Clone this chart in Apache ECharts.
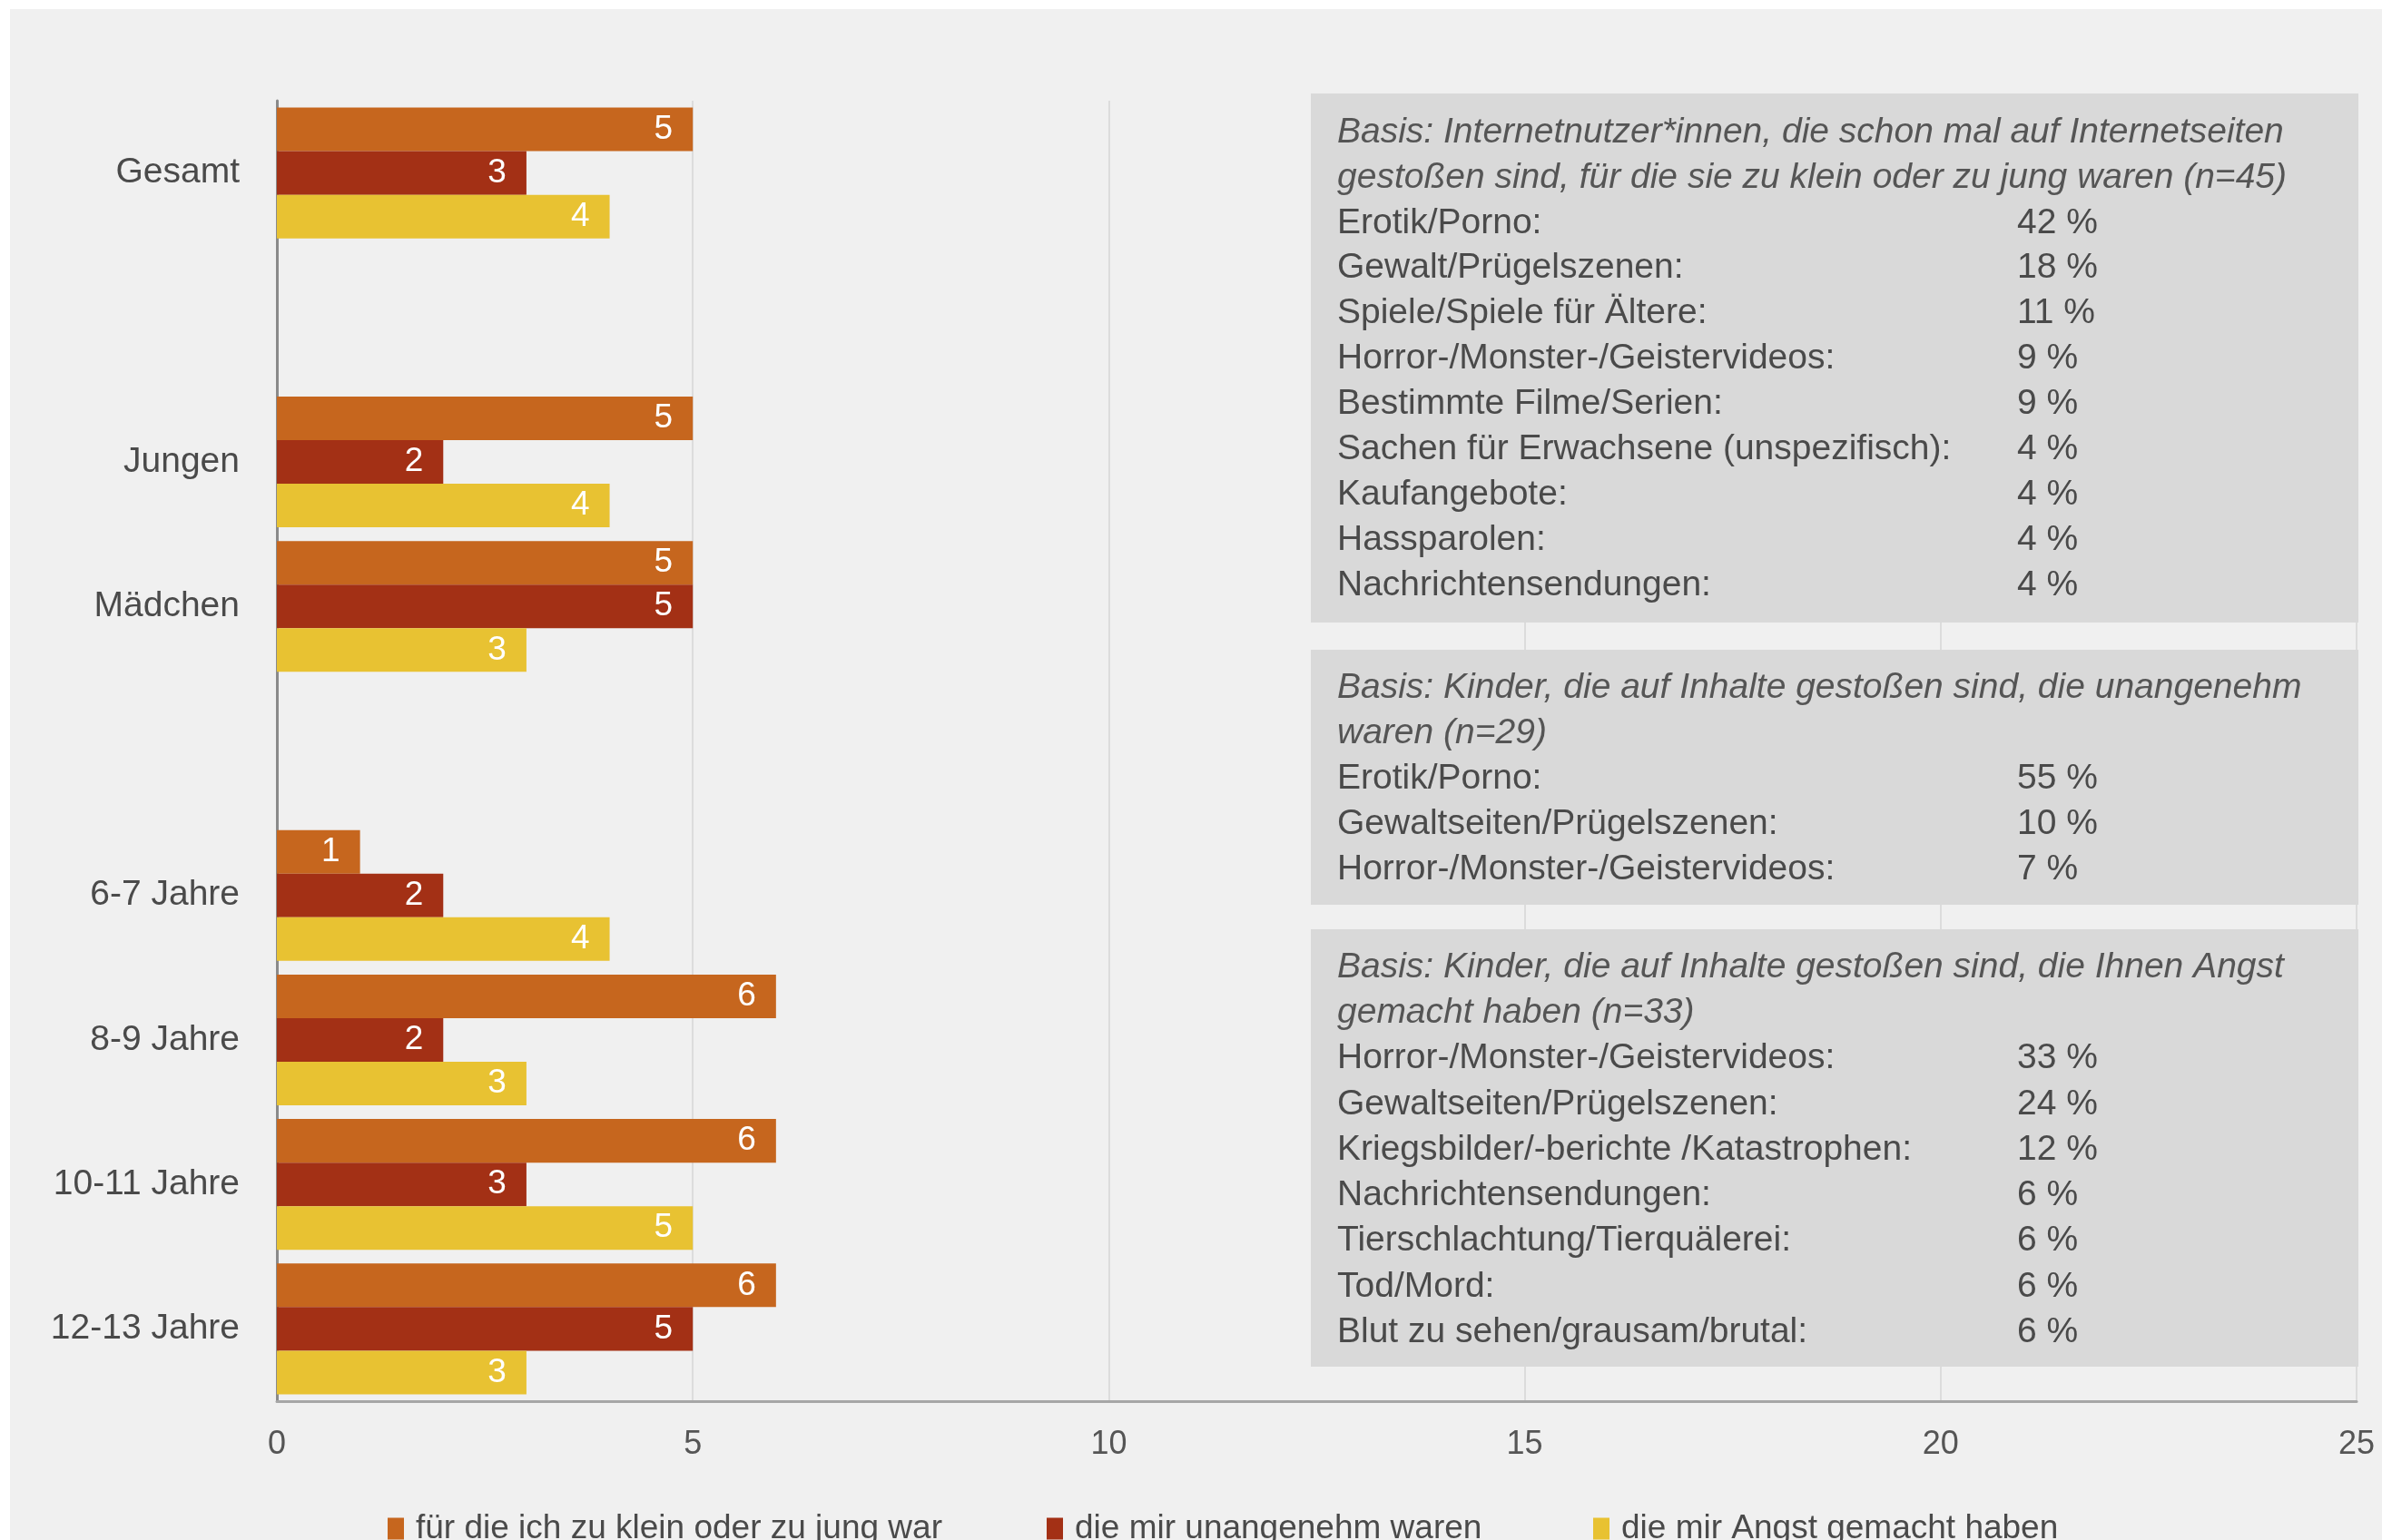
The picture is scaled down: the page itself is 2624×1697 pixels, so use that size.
<!DOCTYPE html>
<html>
<head>
<meta charset="utf-8">
<script src="https://cdn.jsdelivr.net/npm/echarts@6/dist/echarts.min.js"></script>
<style>
html,body{margin:0;padding:0;background:#fff;}
#chart{width:2624px;height:1697px;}
</style>
</head>
<body>
<div id="chart"></div>
<script>
// ---- data ----
const categories = ['Gesamt', ' ', 'Jungen', 'Mädchen', '  ', '6-7 Jahre', '8-9 Jahre', '10-11 Jahre', '12-13 Jahre'];
const seriesNames = ['für die ich zu klein oder zu jung war', 'die mir unangenehm waren', 'die mir Angst gemacht haben'];
const zuKlein = [5, null, 5, 5, null, 1, 6, 6, 6];
const unangenehm = [3, null, 2, 5, null, 2, 2, 3, 5];
const angst = [4, null, 4, 3, null, 4, 3, 5, 3];
const xTicks = [0, 5, 10, 15, 20, 25];

const box1Header = ['Basis: Internetnutzer*innen, die schon mal auf Internetseiten', 'gestoßen sind, für die sie zu klein oder zu jung waren (n=45)'];
const box1Items = ['Erotik/Porno:', 'Gewalt/Prügelszenen:', 'Spiele/Spiele für Ältere:', 'Horror-/Monster-/Geistervideos:', 'Bestimmte Filme/Serien:', 'Sachen für Erwachsene (unspezifisch):', 'Kaufangebote:', 'Hassparolen:', 'Nachrichtensendungen:'];
const box1Values = ['42 %', '18 %', '11 %', '9 %', '9 %', '4 %', '4 %', '4 %', '4 %'];

const box2Header = ['Basis: Kinder, die auf Inhalte gestoßen sind, die unangenehm', 'waren (n=29)'];
const box2Items = ['Erotik/Porno:', 'Gewaltseiten/Prügelszenen:', 'Horror-/Monster-/Geistervideos:'];
const box2Values = ['55 %', '10 %', '7 %'];

const box3Header = ['Basis: Kinder, die auf Inhalte gestoßen sind, die Ihnen Angst', 'gemacht haben (n=33)'];
const box3Items = ['Horror-/Monster-/Geistervideos:', 'Gewaltseiten/Prügelszenen:', 'Kriegsbilder/-berichte /Katastrophen:', 'Nachrichtensendungen:', 'Tierschlachtung/Tierquälerei:', 'Tod/Mord:', 'Blut zu sehen/grausam/brutal:'];
const box3Values = ['33 %', '24 %', '12 %', '6 %', '6 %', '6 %', '6 %'];

// ---- styling ----
const FONT = "'Liberation Sans', Arial, sans-serif";
const colors = ['#c6661e', '#a33015', '#e8c232'];
const textColor = '#4a4a4a';

const chart = echarts.init(document.getElementById('chart'));

function boxGraphics(x, y, w, h, header, items, values, firstLine, step) {
  const els = [];
  els.push({type: 'rect', z: 1, shape: {x: x, y: y, width: w, height: h}, style: {fill: '#d9d9d9'}});
  let line = 0;
  header.forEach(function (t) {
    els.push({type: 'text', z: 3, style: {text: t, x: x + 29, y: firstLine + step * line, font: 'italic 39px ' + FONT, fill: '#555555', textVerticalAlign: 'middle', verticalAlign: 'middle'}});
    line++;
  });
  items.forEach(function (t, i) {
    els.push({type: 'text', z: 3, style: {text: t, x: x + 29, y: firstLine + step * line, font: '39px ' + FONT, fill: textColor, textVerticalAlign: 'middle', verticalAlign: 'middle'}});
    els.push({type: 'text', z: 3, style: {text: values[i], x: 2222, y: firstLine + step * line, font: '39px ' + FONT, fill: textColor, textVerticalAlign: 'middle', verticalAlign: 'middle'}});
    line++;
  });
  return els;
}

const graphics = [].concat(
  [{type: 'rect', z: -10, silent: true, shape: {x: 11, y: 10, width: 2613, height: 1687}, style: {fill: '#f0f0f0'}}],
  boxGraphics(1444, 103, 1154, 583, box1Header, box1Items, box1Values, 146, 49.9),
  boxGraphics(1444, 716, 1154, 281, box2Header, box2Items, box2Values, 758, 50),
  boxGraphics(1444, 1024, 1154, 482, box3Header, box3Items, box3Values, 1066, 50.25)
);

function barSeries(name, data, color) {
  return {
    name: name,
    type: 'bar',
    data: data,
    barGap: '0%',
    barCategoryGap: '9.5%',
    itemStyle: {color: color},
    label: {
      show: true,
      position: 'insideRight',
      distance: 22,
      color: '#ffffff',
      fontSize: 37,
      fontFamily: FONT
    }
  };
}

function legendAt(left, name) {
  return {
    left: left, top: 1661, itemWidth: 18, itemHeight: 24, icon: 'rect',
    data: [name], selectedMode: false,
    textStyle: {fontSize: 37, color: textColor, fontFamily: FONT, padding: [0, 0, 0, 8]}
  };
}

chart.setOption({
  backgroundColor: '#ffffff',
  animation: false,
  textStyle: {fontFamily: FONT},
  graphic: {elements: graphics},
  legend: [legendAt(422, seriesNames[0]), legendAt(1148, seriesNames[1]), legendAt(1750, seriesNames[2])],
  grid: {left: 305, right: 28, top: 111, bottom: 153, containLabel: false},
  xAxis: {
    type: 'value',
    min: xTicks[0],
    max: xTicks[xTicks.length - 1],
    interval: 5,
    axisLine: {show: true, lineStyle: {color: '#a6a6a6', width: 3}},
    axisTick: {show: false},
    splitLine: {show: true, lineStyle: {color: '#dcdcdc', width: 2}},
    axisLabel: {fontSize: 36, color: '#555555', margin: 30, fontFamily: FONT}
  },
  yAxis: {
    type: 'category',
    inverse: true,
    data: categories,
    axisLine: {show: true, lineStyle: {color: '#8a8a8a', width: 3}},
    axisTick: {show: false},
    axisLabel: {fontSize: 39, color: textColor, margin: 41, fontFamily: FONT}
  },
  series: [
    barSeries(seriesNames[0], zuKlein, colors[0]),
    barSeries(seriesNames[1], unangenehm, colors[1]),
    barSeries(seriesNames[2], angst, colors[2])
  ]
});
</script>
</body>
</html>
